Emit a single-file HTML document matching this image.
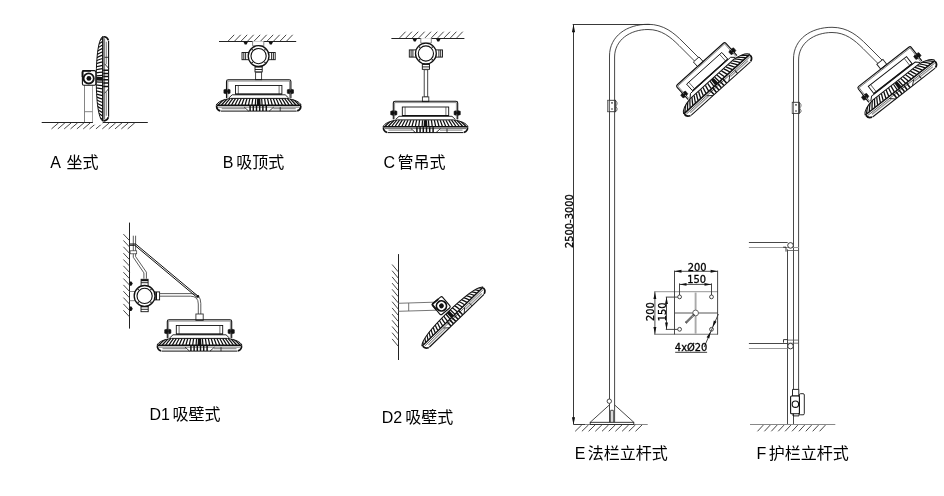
<!DOCTYPE html><html><head><meta charset="utf-8"><title>安装方式</title><style>html,body{margin:0;padding:0;background:#fff}svg{display:block;will-change:transform}</style></head><body><svg width="944" height="496" viewBox="0 0 944 496">
<defs><g id="lb"><path d="M-28 0C-36 1.2 -41 3.5 -42.5 6.8C-43 9 -42 11.6 -38 12.7L38 12.7C42 11.6 43 9 42.5 6.8C41 3.5 36 1.2 28 0Z" fill="#fff" stroke="none"/><path d="M-33.84 0.3Q-37.72 3.6 -40.6 6.6M-31.32 0.3Q-34.73 3.6 -37.22 6.6M-28.7 0.3Q-31.68 3.6 -33.83 6.6M-26 0.3Q-28.6 3.6 -30.45 6.6M-23.23 0.3Q-25.48 3.6 -27.07 6.6M-20.42 0.3Q-22.34 3.6 -23.68 6.6M-17.56 0.3Q-19.18 3.6 -20.3 6.6M-14.68 0.3Q-16 3.6 -16.92 6.6M-11.77 0.3Q-12.82 3.6 -13.53 6.6M-8.84 0.3Q-9.62 3.6 -10.15 6.6M-5.9 0.3Q-6.42 3.6 -6.77 6.6M-2.95 0.3Q-3.21 3.6 -3.38 6.6M0 0.3Q0 3.6 0 6.6M2.95 0.3Q3.21 3.6 3.38 6.6M5.9 0.3Q6.42 3.6 6.77 6.6M8.84 0.3Q9.62 3.6 10.15 6.6M11.77 0.3Q12.82 3.6 13.53 6.6M14.68 0.3Q16 3.6 16.92 6.6M17.56 0.3Q19.18 3.6 20.3 6.6M20.42 0.3Q22.34 3.6 23.68 6.6M23.23 0.3Q25.48 3.6 27.07 6.6M26 0.3Q28.6 3.6 30.45 6.6M28.7 0.3Q31.68 3.6 33.83 6.6M31.32 0.3Q34.73 3.6 37.22 6.6M33.84 0.3Q37.72 3.6 40.6 6.6" stroke="#111" stroke-width="1.25" fill="none"/><path d="M-1.6 0.4L-1.9 6.6L1.9 6.6L1.6 0.4Z" fill="#111" stroke="none"/><path d="M-28 -0.2C-36 1 -41 3.3 -42.7 6.6L-45 6.6L-45 -0.6Z" fill="#fff" stroke="none"/><path d="M28 -0.2C36 1 41 3.3 42.7 6.6L45 6.6L45 -0.6Z" fill="#fff" stroke="none"/><path d="M-28 0C-36 1.2 -41 3.5 -42.5 6.8M28 0C36 1.2 41 3.5 42.5 6.8M-28 0L28 0" fill="none" stroke="#111" stroke-width="1"/><path d="M-42.3 6.9L42.3 6.9" stroke="#111" stroke-width="1.5"/><path d="M-40.5 8.7L40.5 8.7" stroke="#333" stroke-width="0.7"/><path d="M-37 10.3L-13.5 10.3M14.5 10.3L37 10.3" stroke="#999" stroke-width="1.3"/><path d="M-14.5 8.7L-10 12.7M15 8.7L10.5 12.7M21.5 8.7L21.5 12.7" stroke="#222" stroke-width="0.9" fill="none"/><path d="M-42 7.5C-42.3 10 -41 11.6 -38.5 12.5M42 7.5C42.3 10 41 11.6 38.5 12.5" stroke="#111" stroke-width="1.7" fill="none"/><path d="M-8.6 7.4L-8.6 12.5M-5.4 7.4L-5.4 12.5M-2.2 7.4L-2.2 12.5M1 7.4L1 12.5M4.2 7.4L4.2 12.5M7.6 7.4L7.6 12.5" stroke="#111" stroke-width="1.5"/><path d="M-38 12.7L38 12.7" stroke="#111" stroke-width="1"/></g><g id="ls"><path d="M-42.5 6.8C-40 3.7 -30 0.5 0 0.3C30 0.5 40 3.7 42.5 6.8C43 9 42 11.6 38 12.7L-38 12.7C-42 11.6 -43 9 -42.5 6.8Z" fill="#fff" stroke="none"/><path d="M-35.31 0.3Q-38.46 3.5 -40.6 6.6M-32.53 0.3Q-35.33 3.5 -37.22 6.6M-29.69 0.3Q-32.18 3.5 -33.83 6.6M-26.81 0.3Q-29.01 3.5 -30.45 6.6M-23.9 0.3Q-25.82 3.5 -27.07 6.6M-20.97 0.3Q-22.62 3.5 -23.68 6.6M-18.01 0.3Q-19.4 3.5 -20.3 6.6M-15.03 0.3Q-16.18 3.5 -16.92 6.6M-12.04 0.3Q-12.95 3.5 -13.53 6.6M-9.04 0.3Q-9.72 3.5 -10.15 6.6M-6.03 0.3Q-6.48 3.5 -6.77 6.6M-3.02 0.3Q-3.24 3.5 -3.38 6.6M0 0.3Q0 3.5 0 6.6M3.02 0.3Q3.24 3.5 3.38 6.6M6.03 0.3Q6.48 3.5 6.77 6.6M9.04 0.3Q9.72 3.5 10.15 6.6M12.04 0.3Q12.95 3.5 13.53 6.6M15.03 0.3Q16.18 3.5 16.92 6.6M18.01 0.3Q19.4 3.5 20.3 6.6M20.97 0.3Q22.62 3.5 23.68 6.6M23.9 0.3Q25.82 3.5 27.07 6.6M26.81 0.3Q29.01 3.5 30.45 6.6M29.69 0.3Q32.18 3.5 33.83 6.6M32.53 0.3Q35.33 3.5 37.22 6.6M35.31 0.3Q38.46 3.5 40.6 6.6" stroke="#111" stroke-width="1.25" fill="none"/><path d="M-1.8 0.3L-1.9 6.6L1.9 6.6L1.8 0.3Z" fill="#111" stroke="none"/><path d="M-42.5 6.8C-40 3.7 -30 0.5 0 0.3C30 0.5 40 3.7 42.5 6.8L46 6.8L46 -3L-46 -3L-46 6.8Z" fill="#fff" stroke="none"/><path d="M-42.5 6.8C-40 3.7 -30 0.5 0 0.3C30 0.5 40 3.7 42.5 6.8" fill="none" stroke="#111" stroke-width="1"/><path d="M-42.3 6.9L42.3 6.9" stroke="#111" stroke-width="1.5"/><path d="M-40.5 8.7L40.5 8.7" stroke="#333" stroke-width="0.7"/><path d="M-37 10.5L-13.5 10.5M14.5 10.5L37 10.5" stroke="#999" stroke-width="1.3"/><path d="M-14.5 8.7L-10 12.7M15 8.7L10.5 12.7M21.5 8.7L21.5 12.7" stroke="#222" stroke-width="0.9" fill="none"/><path d="M-42 7.5C-42.3 10 -41 11.6 -38.5 12.5M42 7.5C42.3 10 41 11.6 38.5 12.5" stroke="#111" stroke-width="1.7" fill="none"/><path d="M-7.6 7.4L-7.6 12.5M-4.2 7.4L-4.2 12.5M-1 7.4L-1 12.5M2.2 7.4L2.2 12.5M5.4 7.4L5.4 12.5M8.6 7.4L8.6 12.5" stroke="#111" stroke-width="1.5"/><path d="M-38 12.7L38 12.7" stroke="#111" stroke-width="1.1"/></g><g id="lk"><path d="M-32.2 -0.5L-32.2 -16.8Q-32.2 -18.6 -30.4 -18.6L30.4 -18.6Q32.2 -18.6 32.2 -16.8L32.2 -0.5" fill="none" stroke="#111" stroke-width="1.1"/><path d="M-30.9 -0.5L-30.9 -17.3L30.9 -17.3L30.9 -0.5" fill="none" stroke="#444" stroke-width="0.6"/><rect x="-23.2" y="-12.9" width="46.4" height="8.7" fill="#fff" stroke="#111" stroke-width="0.9"/><path d="M-20.4 -12.9L-20.4 -4.2M20.4 -12.9L20.4 -4.2" stroke="#333" stroke-width="0.7"/><path d="M-23.2 -4.1L23.2 -4.1" stroke="#111" stroke-width="1.4"/><path d="M-30 -0.3L-26.5 -3.6L26.5 -3.6L30 -0.3" fill="#fff" stroke="#111" stroke-width="0.9"/><path d="M-34.8 -8.6L-32.4 -9.2L-32.4 -4.6L-34.8 -5.2ZM-30.8 -9.2L-28.6 -8.6L-28.6 -5.2L-30.8 -4.6Z" fill="#111" stroke="#111" stroke-width="0.6" stroke-linejoin="round"/><path d="M-32.4 -7L-30.8 -7" stroke="#111" stroke-width="2.2"/><path d="M34.8 -8.6L32.4 -9.2L32.4 -4.6L34.8 -5.2ZM30.8 -9.2L28.6 -8.6L28.6 -5.2L30.8 -4.6Z" fill="#111" stroke="#111" stroke-width="0.6" stroke-linejoin="round"/><path d="M32.4 -7L30.8 -7" stroke="#111" stroke-width="2.2"/></g></defs>
<g fill="none" stroke="#333" stroke-width="0.9">
<g id="figA">
<path d="M41.7 122.5L147.8 122.5" stroke="#222" stroke-width="1"/>
<path d="M58.6 122.8l-7.1 6.1M64.95 122.8l-7.1 6.1M71.3 122.8l-7.1 6.1M77.65 122.8l-7.1 6.1M84 122.8l-7.1 6.1M90.35 122.8l-7.1 6.1M96.7 122.8l-7.1 6.1M103.05 122.8l-7.1 6.1M109.4 122.8l-7.1 6.1M115.75 122.8l-7.1 6.1M122.1 122.8l-7.1 6.1M128.45 122.8l-7.1 6.1M134.8 122.8l-7.1 6.1"/>
<path d="M84.5 84.8L84.5 122M92.7 84.8L92.7 122M84.5 111.7L92.7 111.7" stroke="#777" stroke-width="0.9"/>
<g transform="translate(95.9 78.8) rotate(-90)"><use href="#ls"/></g>
<rect x="82.4" y="70.6" width="13.4" height="14.6" rx="1.5" fill="#fff" stroke="#111" stroke-width="1.1"/>
<path d="M82.6 77L82.6 72Q82.6 70.9 83.8 70.9L91 70.9" stroke="#111" stroke-width="1.9"/>
<circle cx="88.7" cy="78.4" r="5.1" fill="#fff" stroke="#111" stroke-width="1.8"/><circle cx="88.9" cy="78.4" r="2.4" fill="#111" stroke="none"/>
</g>
<g id="figB">
<path d="M219 41.5L296.2 41.5" stroke="#222" stroke-width="1"/>
<path d="M228.2 41l6 -6.2M234.7 41l6 -6.2M241.2 41l6 -6.2M247.7 41l6 -6.2M254.2 41l6 -6.2M260.7 41l6 -6.2M267.2 41l6 -6.2M273.7 41l6 -6.2M280.2 41l6 -6.2M286.7 41l6 -6.2"/>
<path d="M252.6 41.2L252.6 45.8L263.8 45.8L263.8 41.2" fill="#fff" stroke="#777"/>
<path d="M243.4 41.8L248 41.8L246.6 44.6L244.8 44.6ZM268.5 41.8L273.1 41.8L271.7 44.6L269.9 44.6Z" fill="#111" stroke="none"/>
<g transform="translate(258.6 56.1)"><g fill="#fff" stroke="#111" stroke-width="0.9"><rect x="-16.6" y="-3.6" width="8" height="7.2"/><path d="M-14.8 -3.6L-14.8 3.6M-13 -3.6L-13 3.6"/><rect x="8.6" y="-3.6" width="8" height="7.2"/><path d="M14.8 -3.6L14.8 3.6M13 -3.6L13 3.6"/><rect x="-3.6" y="9.2" width="7.2" height="6.6"/><path d="M-3.6 10.6L3.6 10.6" stroke-width="1.6"/><path d="M-3.6 13.4L3.6 13.4"/><circle r="10.4" stroke-width="1.3"/><circle r="7.6" stroke-width="1.1"/></g><g fill="#222" stroke="none"><circle cx="6.4" cy="6.4" r="0.8"/><circle cx="-6.4" cy="6.4" r="0.8"/><circle cx="6.4" cy="-6.4" r="0.8"/><circle cx="-6.4" cy="-6.4" r="0.8"/></g></g>
<rect x="255.6" y="72.3" width="6" height="7.4" fill="#fff"/>
<g transform="translate(258.7 98.4)"><use href="#lk"/><use href="#lb"/></g>
</g>
<g id="figC">
<path d="M391.4 38.5L464.4 38.5" stroke="#222" stroke-width="1"/>
<path d="M399.6 37.9l6 -6.2M405.95 37.9l6 -6.2M412.3 37.9l6 -6.2M418.65 37.9l6 -6.2M425 37.9l6 -6.2M431.35 37.9l6 -6.2M437.7 37.9l6 -6.2M444.05 37.9l6 -6.2M450.4 37.9l6 -6.2M456.75 37.9l6 -6.2"/>
<path d="M420.8 38.1L420.8 43L431.3 43L431.3 38.1" fill="#fff" stroke="#777"/>
<path d="M412.5 38.8L417.1 38.8L415.7 41.6L413.9 41.6ZM436 38.8L440.6 38.8L439.2 41.6L437.4 41.6Z" fill="#111" stroke="none"/>
<g transform="translate(425.9 53.5)"><g fill="#fff" stroke="#111" stroke-width="0.9"><rect x="-16.6" y="-3.6" width="8" height="7.2"/><path d="M-14.8 -3.6L-14.8 3.6M-13 -3.6L-13 3.6"/><rect x="8.6" y="-3.6" width="8" height="7.2"/><path d="M14.8 -3.6L14.8 3.6M13 -3.6L13 3.6"/><rect x="-3.6" y="9.2" width="7.2" height="6.6"/><path d="M-3.6 10.6L3.6 10.6" stroke-width="1.6"/><path d="M-3.6 13.4L3.6 13.4"/><circle r="10.4" stroke-width="1.3"/><circle r="7.6" stroke-width="1.1"/></g><g fill="#222" stroke="none"><circle cx="6.4" cy="6.4" r="0.8"/><circle cx="-6.4" cy="6.4" r="0.8"/><circle cx="6.4" cy="-6.4" r="0.8"/><circle cx="-6.4" cy="-6.4" r="0.8"/></g></g>
<rect x="424.2" y="69.7" width="3.5" height="27.2" fill="#fff"/>
<rect x="422.4" y="96.9" width="6.4" height="4.7" fill="#fff"/>
<g transform="translate(425.5 119.9)"><use href="#lk"/><use href="#lb"/></g>
</g>
<g id="figD1">
<path d="M129.5 222.6L129.5 328.6" stroke="#222" stroke-width="1"/>
<path d="M129.6 240.7l-6.2 -6.6M129.6 247.05l-6.2 -6.6M129.6 253.4l-6.2 -6.6M129.6 259.75l-6.2 -6.6M129.6 266.1l-6.2 -6.6M129.6 272.45l-6.2 -6.6M129.6 278.8l-6.2 -6.6M129.6 285.15l-6.2 -6.6M129.6 291.5l-6.2 -6.6M129.6 297.85l-6.2 -6.6M129.6 304.2l-6.2 -6.6M129.6 310.55l-6.2 -6.6M129.6 316.9l-6.2 -6.6"/>
<path d="M133.3 235.7L133.3 257.3L143.9 272.9L143.9 278.7M135.6 235.7L135.6 256.6L146.4 272.2L146.4 278.7" stroke-width="0.8"/>
<path d="M130 244L135.6 244L198.4 296.5M130 245.3L134.8 245.3L197.3 297.6" stroke="#111" stroke-width="1"/>
<rect x="130.1" y="250.8" width="6.6" height="3" fill="#fff" stroke-width="0.7"/>
<path d="M129.6 291.5L136 291.5M129.6 300.7L136 300.7" stroke="#777"/>
<g transform="translate(144.6 295.9)"><g fill="#fff" stroke="#111" stroke-width="0.9"><rect x="-3.5" y="-16.6" width="7" height="7.4"/><path d="M-3.5 -15.6L3.5 -15.6" stroke-width="1.8"/><path d="M-3.5 -13.2L3.5 -13.2"/><rect x="9" y="-4" width="6" height="8"/><path d="M11.6 -4L11.6 4" stroke-width="1.6"/><rect x="-3.6" y="9.2" width="7.2" height="6.6"/><path d="M-3.6 10.6L3.6 10.6" stroke-width="1.6"/><path d="M-3.6 13.4L3.6 13.4"/><circle r="10.4" stroke-width="1.3"/><circle r="7.6" stroke-width="1.1"/></g><g fill="#222" stroke="none"><circle cx="6.4" cy="6.4" r="0.8"/><circle cx="-6.4" cy="6.4" r="0.8"/><circle cx="6.4" cy="-6.4" r="0.8"/><circle cx="-6.4" cy="-6.4" r="0.8"/></g></g>
<path d="M129.6 281.4L131.4 281.4L132.8 283.6L131.4 285.8L129.6 285.8ZM129.6 306.6L131.4 306.6L132.8 308.8L131.4 311L129.6 311Z" fill="#111" stroke="none"/>
<path d="M159.2 293.6L191 293.6Q200.8 293.6 200.8 303.4L200.8 314M159.2 296.2L190.5 296.2Q198.3 296.2 198.3 304L198.3 314" stroke-width="0.8"/>
<rect x="195.9" y="314" width="7.3" height="6.5" fill="#fff"/>
<circle cx="197.9" cy="296.4" r="1.3" fill="#111" stroke="none"/>
<g transform="translate(199.5 338.4)"><use href="#lk"/><use href="#lb"/></g>
</g>
<g id="figD2">
<path d="M398.5 254.1L398.5 360" stroke="#222" stroke-width="1"/>
<path d="M398.2 271.8l-6.1 -7.3M398.2 278l-6.1 -7.3M398.2 284.2l-6.1 -7.3M398.2 290.4l-6.1 -7.3M398.2 296.6l-6.1 -7.3M398.2 302.8l-6.1 -7.3M398.2 309l-6.1 -7.3M398.2 315.2l-6.1 -7.3M398.2 321.4l-6.1 -7.3M398.2 327.6l-6.1 -7.3M398.2 333.8l-6.1 -7.3M398.2 340l-6.1 -7.3M398.2 346.2l-6.1 -7.3"/>
<path d="M398.2 303.3L437.3 302.1M398.2 311.3L437 310.2M408.7 303L408.7 311" stroke="#666" stroke-width="0.9"/>
<g transform="translate(447.8 311.7) rotate(-44)"><use href="#ls"/></g>
<g transform="translate(441.2 305.6) rotate(-40)"><rect x="-6.5" y="-7" width="13" height="14.2" rx="1.6" fill="#fff" stroke="#111" stroke-width="1.1"/><path d="M-6.3 0L-6.3 -5.6Q-6.3 -6.8 -5.1 -6.8L2 -6.8" stroke="#111" stroke-width="1.8"/><circle cy="0.4" r="5" fill="#fff" stroke="#111" stroke-width="1.8"/><circle cy="0.4" r="2.4" fill="#111" stroke="none"/></g>
</g>
<g id="figE">
<path d="M572.7 24.5L650 24.5M573.5 24.5L573.5 424.5L585 424.5" stroke="#222" stroke-width="0.9"/>
<path d="M573.5 24.3L571.9 32.2L575.1 32.2ZM573.5 424.6L571.9 417.2L575.1 417.2Z" fill="#111" stroke="none"/>
<path d="M609.5 423.5L609.5 56C609.5 36 627 24.3 648 24.3C664 24.3 674 33 683 42L700.8 59.8M614.6 423.5L614.6 57C614.6 40 630 29.5 648 29.5C661.5 29.5 670.5 37 679.2 45.7L697 63.5" stroke-width="0.9"/>
<rect x="607.7" y="100.3" width="7.9" height="11.4" fill="none" stroke="#333"/><path d="M615.6 100.8L617 102.2L617 104.6L615.9 105.6L615.9 107L617 108L617 110.4L615.6 111.4" stroke="#444" stroke-width="0.8"/><rect x="607.7" y="100.8" width="1.6" height="10.4" fill="#bbb" stroke="none"/><circle cx="612" cy="102.9" r="0.8" fill="#222" stroke="none"/><circle cx="612" cy="109" r="0.8" fill="#222" stroke="none"/>
<g transform="translate(713 78.1) rotate(-42) scale(1.02)"><rect x="-3.7" y="-24.6" width="7.4" height="6" fill="#fff" stroke="#222" stroke-width="0.9"/><use href="#lk"/><use href="#lb" transform="translate(-1.2 0) scale(1.03 1)"/></g>
<path d="M585 424.5L647.7 424.5" stroke="#888" stroke-width="1.1"/>
<path d="M581.8 424.9l-6.6 6.4M588.5 424.9l-6.6 6.4M595.2 424.9l-6.6 6.4M601.9 424.9l-6.6 6.4M608.6 424.9l-6.6 6.4M615.3 424.9l-6.6 6.4M622 424.9l-6.6 6.4M628.7 424.9l-6.6 6.4M635.4 424.9l-6.6 6.4M642.1 424.9l-6.6 6.4"/>
<path d="M590.2 422.3L609.3 405M614.7 405L633.8 422.3M610.7 423L610.7 410.3L613.3 410.3L613.3 423" stroke-width="0.9"/>
<rect x="590.2" y="422.3" width="43.6" height="2.2" fill="#fff" stroke="#222"/>
<circle cx="609.3" cy="401.2" r="2.2" fill="#fff"/>
</g>
<g id="plate" stroke="#333" stroke-width="0.9">
<path d="M654.2 291.7L718 291.7" stroke="#aaa" stroke-width="1.3"/>
<path d="M654.2 334.3L718 334.3" stroke="#777" stroke-width="1.1"/>
<path d="M695.6 292.4L695.6 333.8M675 313L717.5 313" stroke="#aaa" stroke-width="1.9"/>
<path d="M674.5 270.6L674.5 334.4M717.6 270.6L717.6 334.4"/>
<circle cx="679.6" cy="296.9" r="1.9" fill="#fff"/>
<circle cx="711.5" cy="296.9" r="1.9" fill="#fff"/>
<circle cx="679.6" cy="329.3" r="1.9" fill="#fff"/>
<circle cx="711.5" cy="329.3" r="1.9" fill="#fff"/>
<circle cx="695.6" cy="313" r="2.9" fill="#fff" stroke="#555"/>
<path d="M694.3 314.3L685.6 323" stroke="#222" stroke-width="2.4" stroke-dasharray="0.9 0.5"/>
<path d="M674.5 271.3L717.6 271.3"/>
<path d="M679.5 283.4L679.5 295M711.5 283.4L711.5 295M679.5 284.4L711.5 284.4"/>
<path d="M654.9 291.7L654.9 334.3"/>
<path d="M665.8 297.1L677.7 297.1M665.8 329.4L677.7 329.4M666.5 297.1L666.5 329.4"/>
<path d="M718.4 314L704.2 347"/>
<path d="M675.2 352.3L707.1 352.3" stroke="#222"/>
<path d="M674.5 271.3L681.5 272.75L681.5 269.85Z" fill="#111" stroke="none"/>
<path d="M717.6 271.3L710.6 269.85L710.6 272.75Z" fill="#111" stroke="none"/>
<path d="M679.5 284.4L686.5 285.85L686.5 282.95Z" fill="#111" stroke="none"/>
<path d="M711.5 284.4L704.5 282.95L704.5 285.85Z" fill="#111" stroke="none"/>
<path d="M654.9 291.9L653.45 298.9L656.35 298.9Z" fill="#111" stroke="none"/>
<path d="M654.9 334.1L656.35 327.1L653.45 327.1Z" fill="#111" stroke="none"/>
<path d="M666.5 297.1L665.05 304.1L667.95 304.1Z" fill="#111" stroke="none"/>
<path d="M666.5 329.4L667.95 322.4L665.05 322.4Z" fill="#111" stroke="none"/>
<path d="M712.4 327.6L716.5 321.74L713.84 320.6Z" fill="#111" stroke="none"/>
<path d="M710.7 331.5L706.6 337.36L709.26 338.5Z" fill="#111" stroke="none"/>
</g>
<g id="figF">
<path d="M793.5 424.5L793.5 59C793.5 39 811 27.3 832 27.3C848 27.3 858 36 867 45L884.8 62.8M798.6 389.5L798.6 60C798.6 43 814 32.5 832 32.5C845.5 32.5 854.5 40 863.2 48.7L881 66.5" stroke-width="0.9"/>
<path d="M787.5 249.4L787.5 424.5" stroke-width="0.9"/>
<rect x="792.3" y="102.3" width="7.2" height="11.1" fill="none" stroke="#333"/><path d="M799.5 102.8L801 104.2L801 106.6L799.9 107.6L799.9 109L801 110L801 112L799.5 113" stroke="#555" stroke-width="0.8"/><rect x="792.3" y="102.8" width="1.4" height="10.2" fill="#999" stroke="none"/><circle cx="796" cy="104.9" r="0.8" fill="#222" stroke="none"/><circle cx="796" cy="111" r="0.8" fill="#222" stroke="none"/>
<path d="M748.9 242.5L787.7 242.5M748.9 343.5L787.7 343.5" stroke="#333" stroke-width="0.9"/>
<path d="M748.9 247.5L798.8 247.5M748.9 348.5L787.7 348.5" stroke="#999" stroke-width="1"/>
<path d="M787.7 250.5L798.8 250.5M787.7 340.1L798.8 340.1M787.7 343.2L798.8 343.2" stroke="#555" stroke-width="0.8"/>
<circle cx="790.5" cy="245.4" r="2.8" fill="#fff" stroke="#222"/><circle cx="790.5" cy="346.1" r="2.8" fill="#fff" stroke="#222"/>
<path d="M783.2 247.2L786 247.2L786 251.6M783.5 342.7L783.5 339.6L787.7 339.6" stroke="#222"/>
<path d="M792.5 389.4L798.8 389.4L798.8 396L792.5 396Z" fill="#fff" stroke="#111"/>
<rect x="799.4" y="393.7" width="4.9" height="21.1" rx="1.2" fill="#fff" stroke="#111"/>
<rect x="790.6" y="396" width="8.8" height="17.7" rx="1" fill="#fff" stroke="#111" stroke-width="1.1"/>
<path d="M793 413.7L793 415.9L799 415.9L799 413.7" stroke="#111"/>
<circle cx="795.4" cy="404.2" r="3.2" fill="#fff" stroke="#111" stroke-width="1.1"/>
<g transform="translate(895.7 82.1) rotate(-38) scale(1.045)"><rect x="-3.7" y="-24.6" width="7.4" height="6" fill="#fff" stroke="#222" stroke-width="0.9"/><use href="#lk"/><use href="#lb"/></g>
<path d="M750 424.5L835.3 424.5" stroke="#888" stroke-width="1.1"/>
<path d="M763.3 425.1l-5.8 6.2M770.2 425.1l-5.8 6.2M777.1 425.1l-5.8 6.2M784 425.1l-5.8 6.2M790.9 425.1l-5.8 6.2M797.8 425.1l-5.8 6.2M804.7 425.1l-5.8 6.2M811.6 425.1l-5.8 6.2M818.5 425.1l-5.8 6.2M825.4 425.1l-5.8 6.2"/>
</g>
</g>
<g font-family="'Liberation Sans','Noto Sans CJK SC',sans-serif" font-size="16" font-weight="400" fill="#000">
<text y="167.8"><tspan x="50.2">A</tspan><tspan x="66.4">坐式</tspan></text>
<text y="167.8"><tspan x="222.8">B</tspan><tspan x="236.3">吸顶式</tspan></text>
<text y="168.4"><tspan x="383.4">C</tspan><tspan x="397.6">管吊式</tspan></text>
<text y="419.6"><tspan x="149.4">D1</tspan><tspan x="172.6">吸壁式</tspan></text>
<text y="422.6"><tspan x="381.8">D2</tspan><tspan x="405.3">吸壁式</tspan></text>
<text y="458.8"><tspan x="574.8">E</tspan><tspan x="587.7">法栏立杆式</tspan></text>
<text y="458.8"><tspan x="756.4">F</tspan><tspan x="768.7">护栏立杆式</tspan></text>
</g>
<g font-family="'DejaVu Sans','Liberation Sans',sans-serif" font-size="9.9" fill="#000" stroke="#000" stroke-width="0.3" text-anchor="middle">
<text x="697.1" y="270.5">200</text>
<text x="696.7" y="282.9">150</text>
<text transform="translate(653.9 311.6) rotate(-90)">200</text>
<text transform="translate(665.7 311.8) rotate(-90)">150</text>
<text x="691.1" y="350.7">4xØ20</text>
<text transform="translate(573 221.1) rotate(-90)">2500-3000</text>
</g>
</svg></body></html>
